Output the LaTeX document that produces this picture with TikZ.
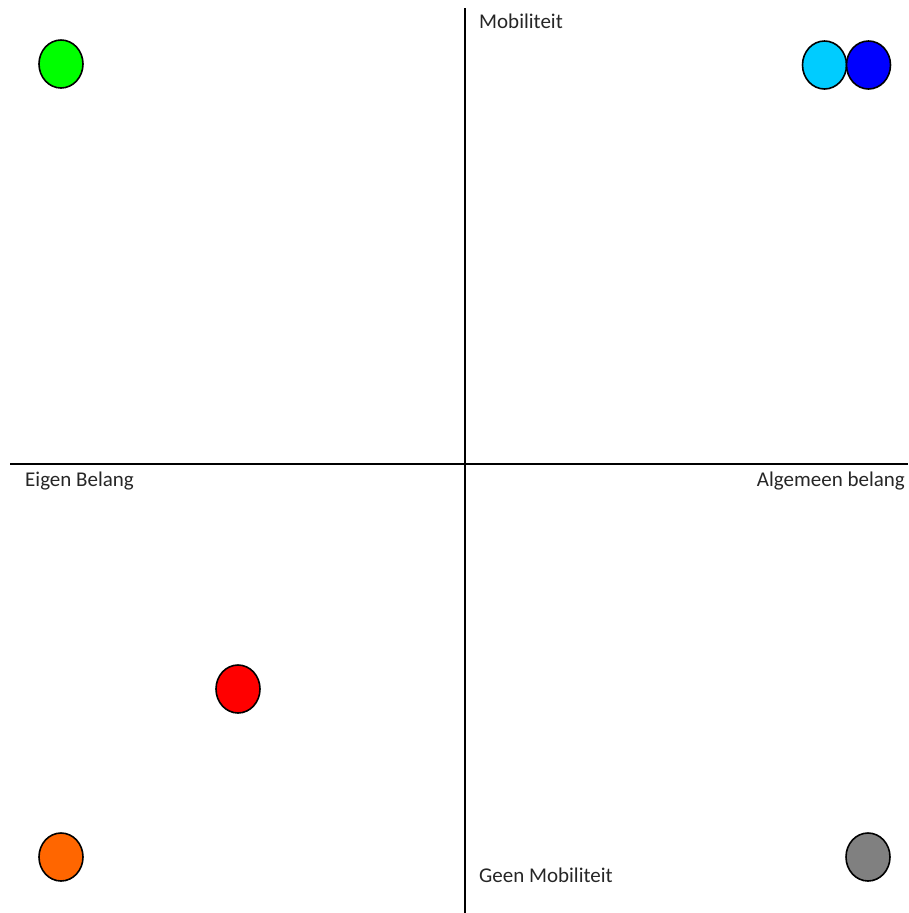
\documentclass[tikz,border=0pt]{standalone}
\usepackage{fontspec}
\setmainfont{Carlito}
\usetikzlibrary{shapes.geometric}
\definecolor{lime}{HTML}{00FF00}
\definecolor{sky}{HTML}{00CCFF}
\definecolor{deepblue}{HTML}{0000FF}
\definecolor{signal}{HTML}{FF0000}
\definecolor{tangerine}{HTML}{FF6600}
\definecolor{ash}{HTML}{808080}
\newcommand{\axisfont}{\fontsize{21pt}{25pt}\selectfont}
\tikzset{
  dot/.style={ellipse, draw=black, line width=1.6pt, minimum width=44pt, minimum height=48pt, inner sep=0pt},
  axis/.style={draw=black, line width=1.6pt},
  lbl/.style={font=\axisfont, inner sep=0pt, text=black!85}
}
\begin{document}
\begin{tikzpicture}[x=1pt, y=-1pt]
  \useasboundingbox (0,0) rectangle (908,913);
  % axes
  \coordinate (top) at (465,8);
  \coordinate (bottom) at (465,913);
  \coordinate (left) at (10,464);
  \coordinate (right) at (908,464);
  \draw[axis] (top) -- (bottom);
  \draw[axis] (left) -- (right);
  % labels
  \node[lbl, anchor=base west] (mob) at (479,28) {Mobiliteit};
  \node[lbl, anchor=base west] (eigen) at (25,486) {Eigen Belang};
  \node[lbl, anchor=base east] (alg) at (905,486) {Algemeen belang};
  \node[lbl, anchor=base west] (geen) at (479,882) {Geen Mobiliteit};
  % positions
  \node[dot, fill=lime] (groen) at (61,64) {};
  \node[dot, fill=sky] (lichtblauw) at (824.5,65) {};
  \node[dot, fill=deepblue] (blauw) at (868.5,65) {};
  \node[dot, fill=signal] (rood) at (238,689) {};
  \node[dot, fill=tangerine] (oranje) at (61,857) {};
  \node[dot, fill=ash] (grijs) at (868,857) {};
\end{tikzpicture}
\end{document}
